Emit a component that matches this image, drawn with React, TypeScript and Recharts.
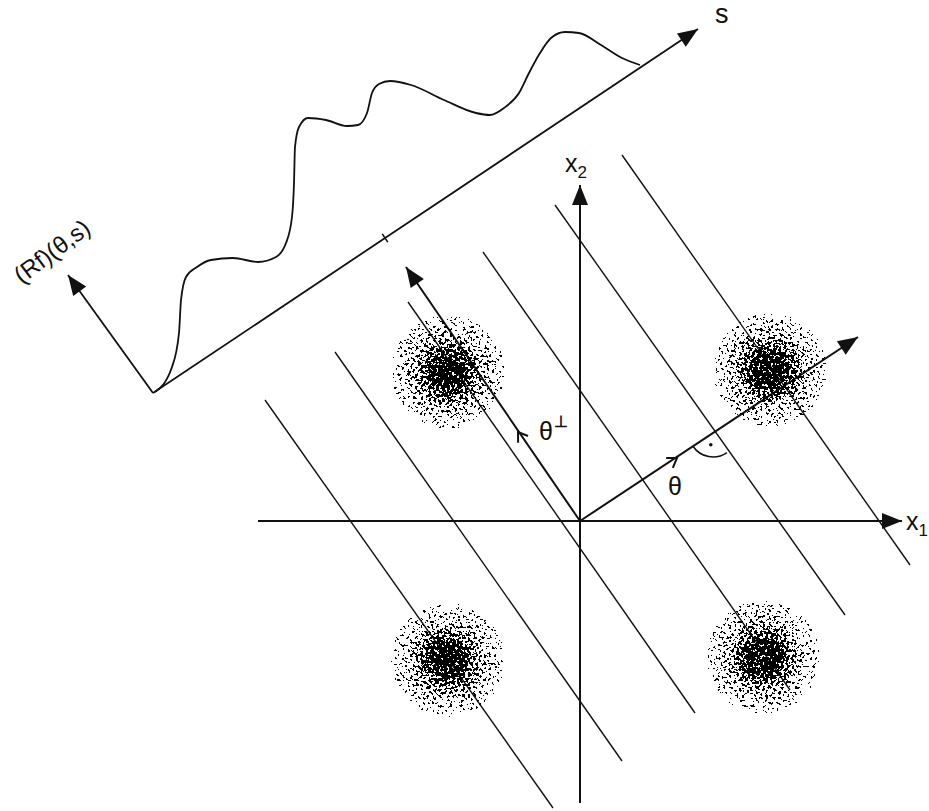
import React from 'react';
import { ComposedChart, Line, Scatter, XAxis, YAxis, ReferenceDot } from 'recharts';

type Pt = { x: number; y: number };

// drawing coordinates: origin where x1 and x2 cross, y up, roughly 1 unit per pixel
const x1Axis: Pt[] = [{ x: -322, y: 0 }, { x: 322, y: 0 }];
const x2Axis: Pt[] = [{ x: 0, y: -282 }, { x: 0, y: 336 }];
const thetaRay: Pt[] = [{ x: 0, y: 0 }, { x: 278, y: 184 }];
const thetaPerpRay: Pt[] = [{ x: 0, y: 0 }, { x: -174, y: 254 }];
const sAxis: Pt[] = [{ x: -427, y: 128 }, { x: 118, y: 492 }];
const rfAxis: Pt[] = [{ x: -427, y: 128 }, { x: -512, y: 246 }];

// lines x·θ = s, perpendicular to θ
const projLines: Pt[][] = [
  [{ x: -315, y: 121 }, { x: -27, y: -287 }],
  [{ x: -245, y: 169 }, { x: 42, y: -240 }],
  [{ x: -172, y: 219 }, { x: 115, y: -192 }],
  [{ x: -97, y: 269 }, { x: 210, y: -169 }],
  [{ x: -25, y: 316 }, { x: 265, y: -94 }],
  [{ x: 42, y: 366 }, { x: 330, y: -44 }],
];

// the projection (Rf)(θ,s) drawn over the s axis
const profile: Pt[] = [
  { x: -425, y: 129 }, { x: -408, y: 154 }, { x: -401, y: 188 }, { x: -399, y: 221 },
  { x: -394, y: 244 }, { x: -383, y: 254 }, { x: -369, y: 261 }, { x: -347, y: 263 },
  { x: -322, y: 259 }, { x: -304, y: 264 }, { x: -294, y: 278 }, { x: -288, y: 304 },
  { x: -286, y: 338 }, { x: -285, y: 374 }, { x: -281, y: 394 }, { x: -272, y: 403 },
  { x: -254, y: 401 }, { x: -233, y: 395 }, { x: -222, y: 396 }, { x: -213, y: 408 },
  { x: -208, y: 428 }, { x: -201, y: 437 }, { x: -190, y: 440 }, { x: -169, y: 436 },
  { x: -136, y: 421 }, { x: -104, y: 408 }, { x: -90, y: 406 }, { x: -76, y: 413 },
  { x: -61, y: 428 }, { x: -51, y: 448 }, { x: -40, y: 468 }, { x: -29, y: 483 },
  { x: -15, y: 489 }, { x: -1, y: 488 }, { x: 21, y: 476 }, { x: 42, y: 463 },
  { x: 60, y: 456 },
];

const blobs: Pt[] = [
  { x: -132, y: 149 },
  { x: 190, y: 151 },
  { x: -132, y: -139 },
  { x: 183, y: -136 },
];

const originMark: Pt = { x: -195, y: 283 };
const rightAngleAt: Pt = { x: 133, y: 88 };
const thetaChevron: Pt = { x: 97, y: 63 };
const perpChevron: Pt = { x: -62, y: 89 };

const INK = '#111';
const FONT = '"Liberation Sans", Arial, sans-serif';

const unit = (a: Pt, b: Pt) => {
  // screen direction (y down) of the segment a -> b
  const dx = b.x - a.x;
  const dy = -(b.y - a.y);
  const d = Math.hypot(dx, dy);
  return { ux: dx / d, uy: dy / d };
};

const arrowDot = (pts: Pt[], len = 20, half = 8) => (props: any) => {
  const { cx, cy, index } = props;
  if (index !== pts.length - 1 || cx == null) return <g key={`d-${index}`} />;
  const { ux, uy } = unit(pts[pts.length - 2], pts[pts.length - 1]);
  const bx = cx - ux * len;
  const by = cy - uy * len;
  return (
    <polygon
      key={`d-${index}`}
      points={`${cx},${cy} ${bx - uy * half},${by + ux * half} ${bx + uy * half},${by - ux * half}`}
      fill={INK}
    />
  );
};

const chevron = (dir: Pt[]) => (props: any) => {
  const { cx, cy } = props;
  const { ux, uy } = unit(dir[0], dir[1]);
  const L = 9;
  const W = 6;
  const bx = cx - ux * L;
  const by = cy - uy * L;
  return (
    <path
      d={`M${bx - uy * W},${by + ux * W} L${cx},${cy} L${bx + uy * W},${by - ux * W}`}
      stroke={INK}
      strokeWidth={2}
      fill="none"
    />
  );
};

const rightAngle = (props: any) => {
  const { cx, cy } = props;
  const back = unit(thetaRay[1], thetaRay[0]);
  const down = unit(projLines[4][0], projLines[4][1]);
  const r = 24;
  const a0 = Math.atan2(down.uy, down.ux);
  const a1 = Math.atan2(back.uy, back.ux);
  const am = (a0 + a1) / 2;
  return (
    <g>
      <path
        d={`M${cx + r * Math.cos(a0)},${cy + r * Math.sin(a0)} A${r},${r} 0 0 1 ${cx + r * Math.cos(a1)},${cy + r * Math.sin(a1)}`}
        stroke={INK}
        strokeWidth={1.5}
        fill="none"
      />
      <circle cx={cx + 12 * Math.cos(am)} cy={cy + 12 * Math.sin(am)} r={1.8} fill={INK} />
    </g>
  );
};

const tickMark = (props: any) => {
  const { cx, cy } = props;
  const { ux, uy } = unit(sAxis[0], sAxis[1]);
  const h = 5;
  return <line x1={cx - uy * h} y1={cy + ux * h} x2={cx + uy * h} y2={cy - ux * h} stroke={INK} strokeWidth={1.6} />;
};

const blobShape = (props: any) => {
  const { cx, cy } = props;
  return <circle cx={cx} cy={cy} r={62} fill="url(#blobGrad)" filter="url(#speckle)" />;
};

const textAt = (content: React.ReactNode, size: number, anchor: 'start' | 'middle' = 'start', rotate = 0) => (props: any) => {
  const { cx, cy } = props;
  return (
    <text
      x={cx}
      y={cy}
      fontFamily={FONT}
      fontSize={size}
      fill={INK}
      textAnchor={anchor}
      transform={rotate ? `rotate(${rotate} ${cx} ${cy})` : undefined}
    >
      {content}
    </text>
  );
};

const seg = (data: Pt[], key: string, width: number, arrow = false) => (
  <Line
    key={key}
    data={data}
    dataKey="y"
    type="linear"
    stroke={INK}
    strokeWidth={width}
    dot={arrow ? arrowDot(data) : false}
    activeDot={false}
    isAnimationActive={false}
  />
);

export default function App() {
  return (
    <div style={{ position: 'absolute', left: 0, top: 0, width: 929, height: 811, background: '#fff' }}>
      <ComposedChart width={929} height={811} margin={{ top: 0, right: 0, bottom: 0, left: 0 }}>
        <defs>
          <radialGradient id="blobGrad">
            <stop offset="0%" stopColor="#000" stopOpacity={1} />
            <stop offset="22%" stopColor="#000" stopOpacity={1} />
            <stop offset="38%" stopColor="#000" stopOpacity={0.68} />
            <stop offset="58%" stopColor="#000" stopOpacity={0.36} />
            <stop offset="82%" stopColor="#000" stopOpacity={0.14} />
            <stop offset="100%" stopColor="#000" stopOpacity={0} />
          </radialGradient>
          <filter id="speckle" x="-10%" y="-10%" width="120%" height="120%" colorInterpolationFilters="sRGB">
            <feTurbulence type="fractalNoise" baseFrequency="0.38" numOctaves={2} seed={7} result="noise" />
            <feColorMatrix in="noise" type="matrix" values="0 0 0 0 0  0 0 0 0 0  0 0 0 0 0  3 0 0 0 -1" result="na" />
            <feComposite in="SourceGraphic" in2="na" operator="arithmetic" k1={0} k2={1} k3={-1} k4={0.43} result="diff" />
            <feComponentTransfer in="diff">
              <feFuncR type="linear" slope={0} intercept={0} />
              <feFuncG type="linear" slope={0} intercept={0} />
              <feFuncB type="linear" slope={0} intercept={0} />
              <feFuncA type="discrete" tableValues="0 1" />
            </feComponentTransfer>
          </filter>
        </defs>
        <XAxis type="number" dataKey="x" domain={[-580, 349]} allowDataOverflow hide />
        <YAxis type="number" dataKey="y" domain={[-290, 521]} allowDataOverflow hide />

        <Scatter data={blobs} shape={blobShape} isAnimationActive={false} />

        {projLines.map((l, i) => seg(l, `p${i}`, 1.4))}
        {seg(x1Axis, 'x1', 2, true)}
        {seg(x2Axis, 'x2', 2, true)}
        {seg(thetaRay, 'th', 2, true)}
        {seg(thetaPerpRay, 'tp', 2, true)}
        {seg(sAxis, 's', 1.8, true)}
        {seg(rfAxis, 'rf', 1.8, true)}
        <Line
          data={profile}
          dataKey="y"
          type="monotoneX"
          stroke={INK}
          strokeWidth={1.8}
          dot={false}
          activeDot={false}
          isAnimationActive={false}
        />

        <ReferenceDot x={originMark.x} y={originMark.y} ifOverflow="visible" shape={tickMark} />
        <ReferenceDot x={rightAngleAt.x} y={rightAngleAt.y} ifOverflow="visible" shape={rightAngle} />
        <ReferenceDot x={thetaChevron.x} y={thetaChevron.y} ifOverflow="visible" shape={chevron(thetaRay)} />
        <ReferenceDot x={perpChevron.x} y={perpChevron.y} ifOverflow="visible" shape={chevron(thetaPerpRay)} />

        <ReferenceDot x={95} y={26} ifOverflow="visible" shape={textAt('θ', 25, 'middle')} />
        <ReferenceDot
          x={-41}
          y={81}
          ifOverflow="visible"
          shape={textAt(<>θ<tspan dx={1} dy={-13} fontSize={16} fontWeight="bold">⊥</tspan></>, 25)}
        />
        <ReferenceDot
          x={326}
          y={-9}
          ifOverflow="visible"
          shape={textAt(<>x<tspan dy={6} fontSize={17}>1</tspan></>, 25)}
        />
        <ReferenceDot
          x={-15}
          y={349}
          ifOverflow="visible"
          shape={textAt(<>x<tspan dy={6} fontSize={17}>2</tspan></>, 25)}
        />
        <ReferenceDot x={135} y={498} ifOverflow="visible" shape={textAt('s', 27)} />
        <ReferenceDot x={-523} y={263} ifOverflow="visible" shape={textAt('(Rf)(θ,s)', 24, 'middle', -37)} />
      </ComposedChart>
    </div>
  );
}
